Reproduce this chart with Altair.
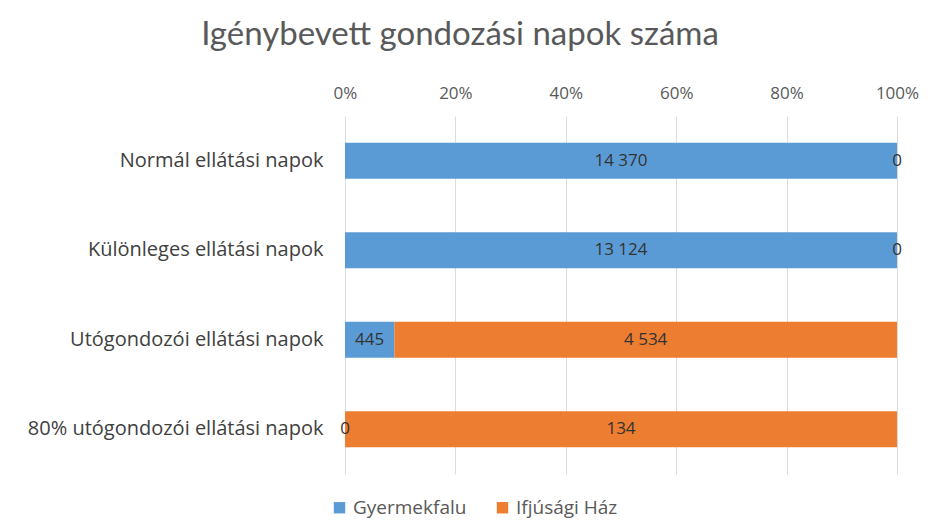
import altair as alt
import pandas as pd

categories = [
    "Normál ellátási napok",
    "Különleges ellátási napok",
    "Utógondozói ellátási napok",
    "80% utógondozói ellátási napok",
]
series = ["Gyermekfalu", "Ifjúsági Ház"]
gyermekfalu = [14370, 13124, 445, 0]
ifjusagi = [0, 0, 4534, 134]
colors = ["#5B9BD5", "#ED7D31"]
tick_values = [0, 0.2, 0.4, 0.6, 0.8, 1.0]

rows = []
for i, c in enumerate(categories):
    for k, (s, vals) in enumerate(zip(series, [gyermekfalu, ifjusagi])):
        v = vals[i]
        rows.append({"cat": c, "series": s, "value": v, "order": k,
                     "label": f"{v:,}".replace(",", " ")})
df = pd.DataFrame(rows)

FONT = "Open Sans"

base = alt.Chart(df).transform_stack(
    stack="value", groupby=["cat"], as_=["start", "end"],
    offset="normalize", sort=[alt.SortField("order", order="ascending")]
)

y = alt.Y("cat:N", sort=categories, title=None,
          axis=alt.Axis(labelFontSize=20, labelColor="#404040", labelFont=FONT,
                        labelPadding=22, labelLimit=400, domain=False, ticks=False))

bars = base.mark_bar(size=36).encode(
    y=y,
    x=alt.X("start:Q", scale=alt.Scale(domain=[0, 1]), title=None,
            axis=alt.Axis(orient="top", values=tick_values, format=".0%",
                          labelFontSize=17, labelColor="#595959", labelFont=FONT,
                          labelPadding=14, labelFlush=False, grid=True,
                          gridColor="#dcdcdc", domain=False, ticks=False)),
    x2="end:Q",
    color=alt.Color("series:N", scale=alt.Scale(domain=series, range=colors),
                    legend=alt.Legend(title=None, orient="none", direction="horizontal",
                                      legendX=-15, legendY=382, symbolType="square",
                                      symbolSize=130, labelFontSize=19, labelFont=FONT,
                                      labelColor="#595959", columnPadding=26,
                                      labelOffset=4, symbolStrokeWidth=0)),
    order=alt.Order("order:Q"),
)

text = base.transform_calculate(mid="(datum.start + datum.end) / 2").mark_text(
    fontSize=17, font=FONT, color="#333333"
).encode(
    y=alt.Y("cat:N", sort=categories),
    x=alt.X("mid:Q"),
    text="label:N",
)

chart = alt.layer(bars, text).properties(
    width=552, height=358,
    autosize=alt.AutoSizeParams(type="none"),
    padding={"left": 337, "top": 108, "right": 25, "bottom": 50},
    title=alt.TitleParams("Igénybevett gondozási napok száma", fontSize=33,
                          font="Lato", fontWeight="normal", color="#595959",
                          anchor="middle", dx=-161, offset=32),
).configure_view(stroke=None)

chart.save("out.html", embed_options={"renderer": "svg", "actions": False})
